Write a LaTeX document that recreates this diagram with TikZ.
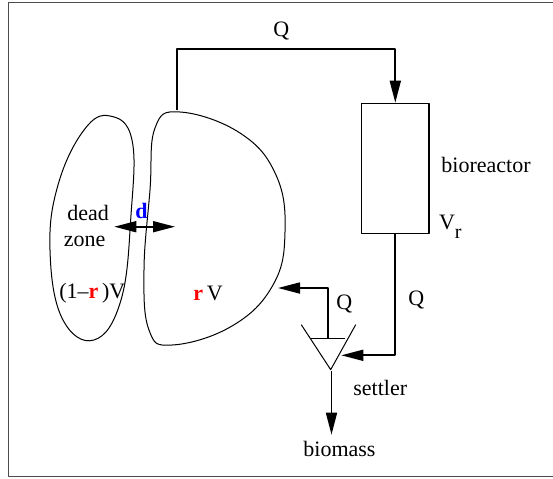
\documentclass[tikz,border=0pt]{standalone}
\usepackage{fontspec}
\setmainfont{Liberation Serif}
\usetikzlibrary{arrows.meta,positioning,calc}

\begin{document}
\begin{tikzpicture}[x=0.5pt, y=-0.5pt, line join=round, line cap=butt,
  pipe/.style={line width=0.85pt, -{Triangle[length=11pt, width=5.5pt]}},
  blob/.style={line width=0.5pt},
  lbl/.style={inner sep=0pt, anchor=base west, font=\fontsize{11}{13}\selectfont}]
\useasboundingbox (0,0) rectangle (553,478);
% outer frame
\draw[gray!60!black, line width=0.6pt] (8.3,2.7) rectangle (560,476.7);
% dead zone and well-mixed zone
\draw[blob] plot[smooth cycle, tension=0.7] coordinates {
  (110,116) (132,140) (131,215) (121,300) (94,340) (62,318) (50,250) (58,185) (84,130)};
\draw[blob] plot[smooth cycle, tension=0.7] coordinates {
  (180,112) (240,133) (276,175) (285,232) (273,285) (232,326) (172,345) (149,330)
  (144,270) (150,190) (155,128)};
% bioreactor
\node[draw, line width=0.6pt, minimum width=33.7pt, minimum height=65pt, inner sep=0pt]
  (reactor) at (395.3,168.3) {};
% settler
\coordinate (stlA) at (301.3,324.7);
\coordinate (stlB) at (355.7,324.7);
\coordinate (apex) at (330.7,369.7);
\draw[blob] (stlA) -- (apex) -- (stlB);
\draw[blob] (311,338) -- (345,338);
% pipe end points
\coordinate (outlet) at (176.7,110);
\coordinate (top) at (395.3,49);
\coordinate (settin) at (341.3,355.3);
\coordinate (settop) at (328,338);
\coordinate (recyc) at (278,288);
\coordinate (dl) at (114.3,226.7);
\coordinate (dr) at (175,226.7);
\coordinate (drop) at (331.5,371);
% labels
\node[lbl] (qtop) at (273,36.6) {Q};
\node[lbl] (bio) at (441,172) {bioreactor};
\node[lbl] (vr) at (438.7,229.6) {V\raisebox{-4.3pt}{\fontsize{10}{12}\selectfont r}};
\node[lbl] (qout) at (408,305.6) {Q};
\node[lbl] (qrec) at (336,309.6) {Q};
\node[lbl] (settler) at (353,395) {settler};
\node[lbl] (biomass) at (303,456) {biomass};
\node[lbl] (dead) at (67,220) {dead};
\node[lbl] (zone) at (63.5,246) {zone};
\node[lbl] (deadvol) at (59,298) {(1--\textcolor{red}{\textbf{r}}\,)V};
\node[lbl] (mixvol) at (193,300) {\textcolor{red}{\textbf{r}}\,V};
\node[lbl] (dlab) at (135,218) {\textcolor{blue}{\textbf{d}}};
% flows
\draw[pipe] (outlet) |- (top) -- (reactor.north);
\draw[pipe] (reactor.south) |- (settin);
\draw[pipe] (settop) |- (recyc);
\draw[pipe] (drop) -- ($(drop)+(0,63.7)$) coordinate (biotip);
\draw[line width=0.85pt, {Triangle[length=11pt, width=5.5pt]}-{Triangle[length=11pt, width=5.5pt]}] (dl) -- (dr);
\end{tikzpicture}
\end{document}
